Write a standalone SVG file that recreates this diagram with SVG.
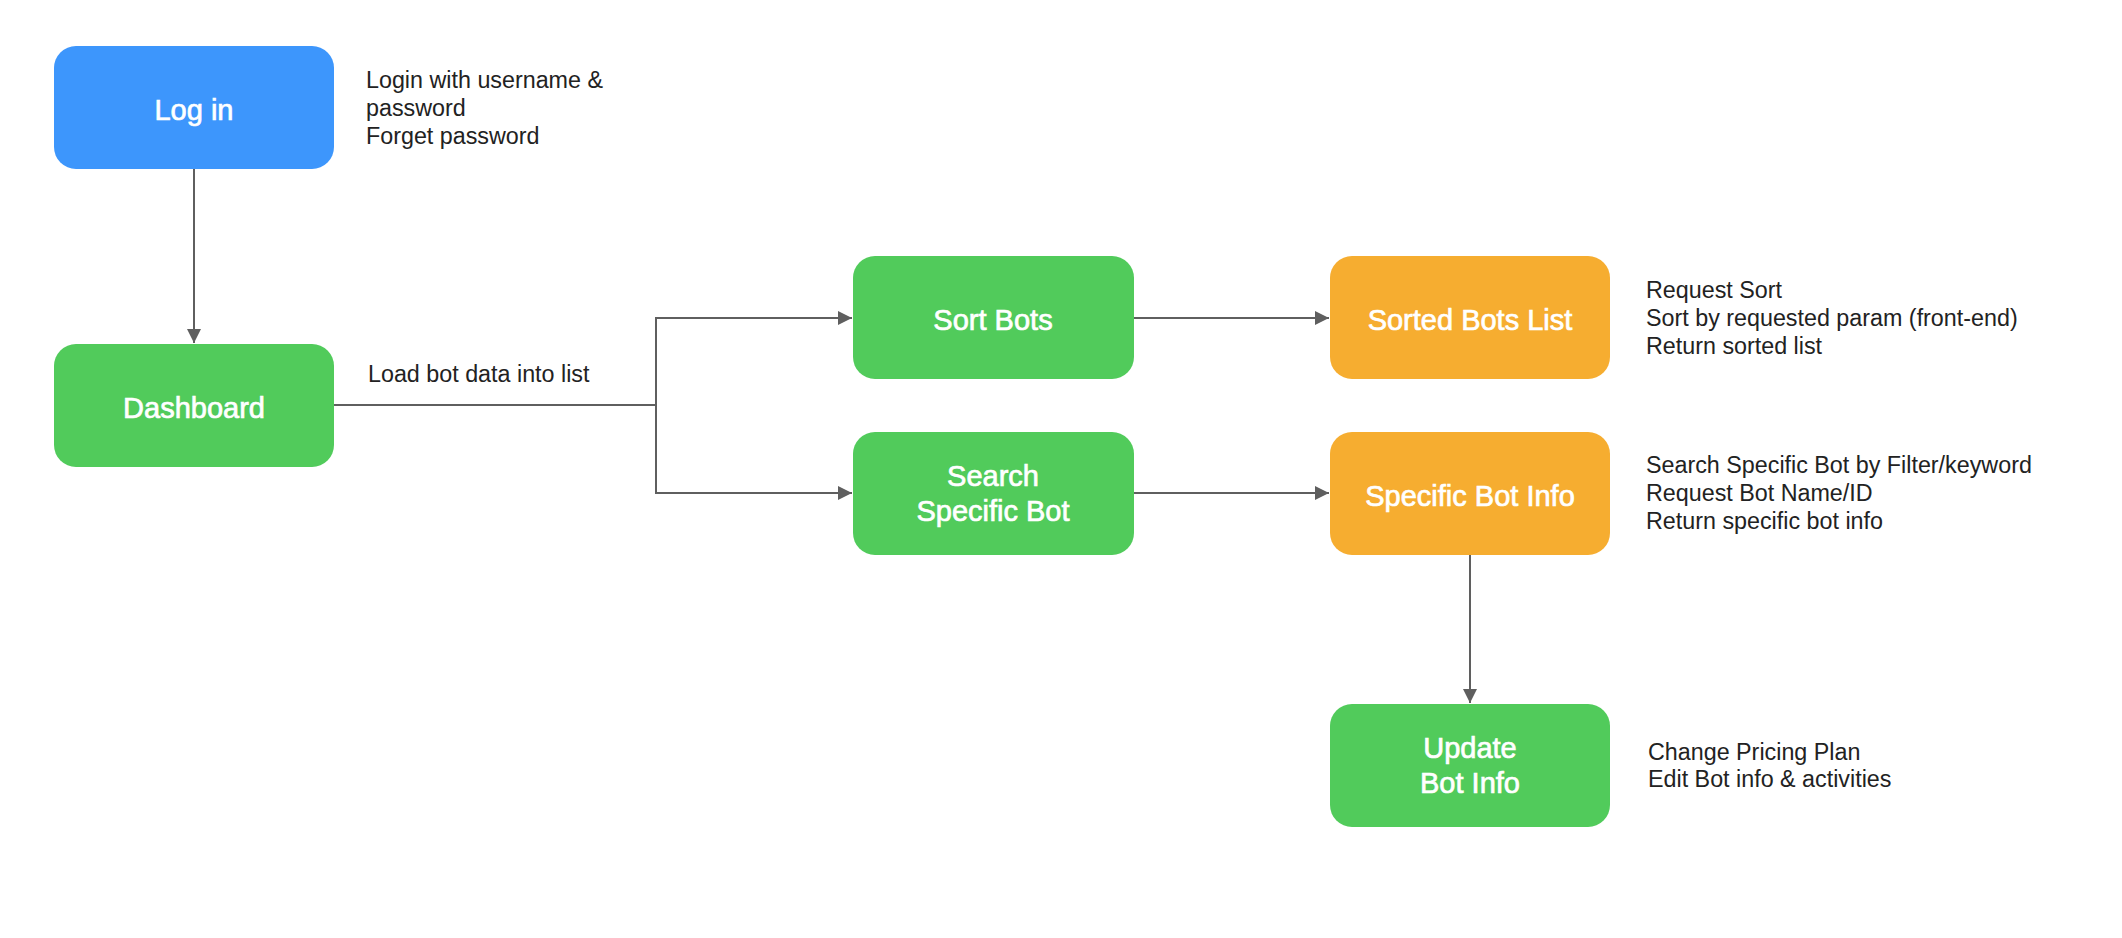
<svg xmlns="http://www.w3.org/2000/svg" width="2122" height="938" viewBox="0 0 2122 938">
<style>
.box{stroke:none}
.blue{fill:#3D96FC}
.green{fill:#51CB5B}
.orange{fill:#F6AD30}
.lbl{font-family:"Liberation Sans",Arial,sans-serif;font-size:29px;fill:#ffffff;stroke:#ffffff;stroke-width:0.7px;text-anchor:middle}
.note{font-family:"Liberation Sans",Arial,sans-serif;font-size:23.3px;fill:#222222}
.conn{fill:none;stroke:#5F5F5F;stroke-width:2}
</style>
<defs>
<marker id="arr" markerUnits="userSpaceOnUse" markerWidth="14" markerHeight="14" viewBox="0 0 14 14" refX="14" refY="7" orient="auto">
<path d="M0,0 L14,7 L0,14 Z" fill="#5F5F5F"/>
</marker>
</defs>
<rect width="2122" height="938" fill="#ffffff"/>
<g id="connectors">
<path class="conn" d="M194,169 V343" marker-end="url(#arr)"/>
<path class="conn" d="M334,405 H656 V318 H852" marker-end="url(#arr)"/>
<path class="conn" d="M656,405 V493 H852" marker-end="url(#arr)"/>
<path class="conn" d="M1134,318 H1329" marker-end="url(#arr)"/>
<path class="conn" d="M1134,493 H1329" marker-end="url(#arr)"/>
<path class="conn" d="M1470,555 V703" marker-end="url(#arr)"/>
</g>
<g id="login">
<rect class="box blue" x="54" y="46" width="280" height="123" rx="22"/>
<text class="lbl" x="194" y="120">Log in</text>
</g>
<g id="login-note">
<text class="note" x="366" y="88">Login with username &amp;</text>
<text class="note" x="366" y="116">password</text>
<text class="note" x="366" y="144">Forget password</text>
</g>
<g id="dashboard">
<rect class="box green" x="54" y="344" width="280" height="123" rx="22"/>
<text class="lbl" x="194" y="418">Dashboard</text>
</g>
<g id="load-label">
<text class="note" x="368" y="382">Load bot data into list</text>
</g>
<g id="sort-bots">
<rect class="box green" x="853" y="256" width="281" height="123" rx="22"/>
<text class="lbl" x="993" y="330">Sort Bots</text>
</g>
<g id="search-bot">
<rect class="box green" x="853" y="432" width="281" height="123" rx="22"/>
<text class="lbl" x="993" y="486">Search</text>
<text class="lbl" x="993" y="521">Specific Bot</text>
</g>
<g id="sorted-list">
<rect class="box orange" x="1330" y="256" width="280" height="123" rx="22"/>
<text class="lbl" x="1470" y="330">Sorted Bots List</text>
</g>
<g id="sorted-note">
<text class="note" x="1646" y="298">Request Sort</text>
<text class="note" x="1646" y="326">Sort by requested param (front-end)</text>
<text class="note" x="1646" y="354">Return sorted list</text>
</g>
<g id="specific-info">
<rect class="box orange" x="1330" y="432" width="280" height="123" rx="22"/>
<text class="lbl" x="1470" y="506">Specific Bot Info</text>
</g>
<g id="specific-note">
<text class="note" x="1646" y="473">Search Specific Bot by Filter/keyword</text>
<text class="note" x="1646" y="501">Request Bot Name/ID</text>
<text class="note" x="1646" y="529">Return specific bot info</text>
</g>
<g id="update-info">
<rect class="box green" x="1330" y="704" width="280" height="123" rx="22"/>
<text class="lbl" x="1470" y="758">Update</text>
<text class="lbl" x="1470" y="793">Bot Info</text>
</g>
<g id="update-note">
<text class="note" x="1648" y="760">Change Pricing Plan</text>
<text class="note" x="1648" y="787">Edit Bot info &amp; activities</text>
</g>
</svg>
